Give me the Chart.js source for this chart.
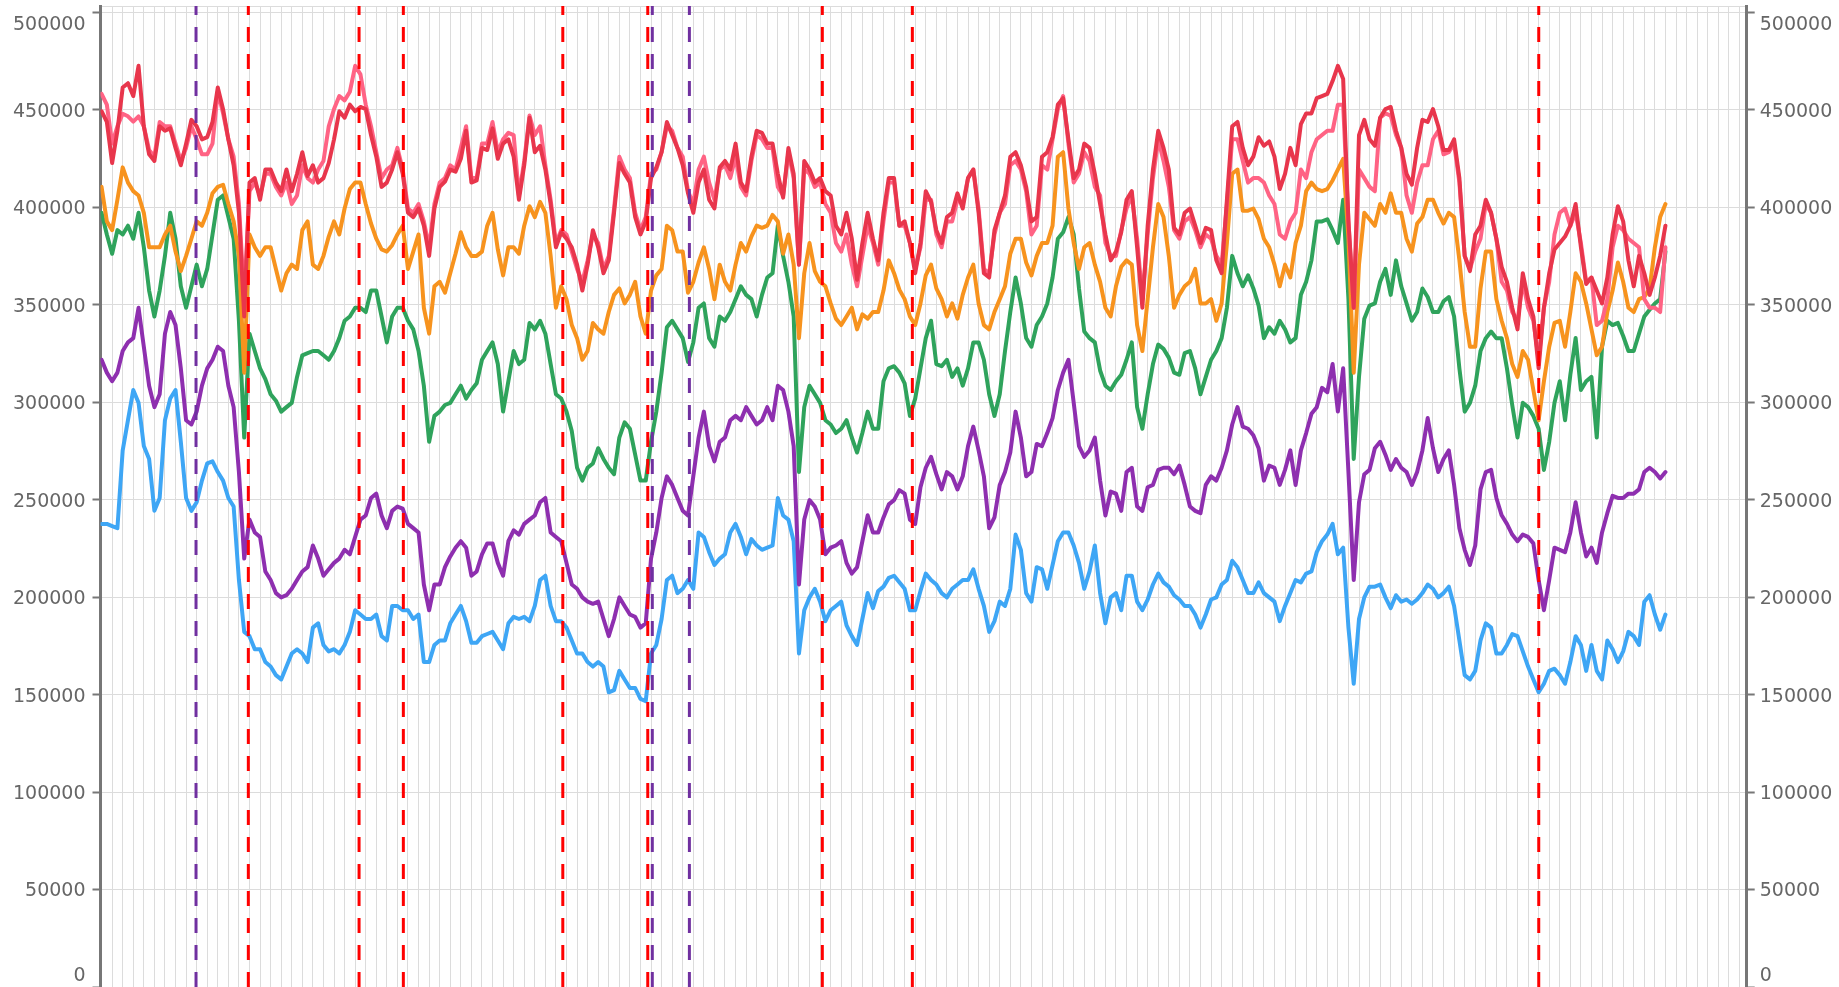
<!DOCTYPE html>
<html>
<head>
<meta charset="utf-8">
<script src="https://cdn.jsdelivr.net/npm/chart.js@4.4.1/dist/chart.umd.min.js"></script>
<style>
  html, body { margin: 0; padding: 0; background: #fff; overflow: hidden; }
  #wrap { position: relative; width: 1839px; height: 987px; }
</style>
</head>
<body>
<div id="wrap"><canvas id="chart"></canvas></div>
<script>
// sample positions, in grid-column units (one column = one vertical grid line)
const xs = [0,0.5,1,1.5,2,2.5,3,3.5,4,4.5,5,5.5,6,6.5,7,7.5,8,8.5,9,9.5,10,10.5,11,11.5,12,12.5,13,13.5,14,14.5,15,15.5,16,16.5,17,17.5,18,18.5,19,19.5,20,20.5,21,21.5,22,22.5,23,23.5,24,24.5,25,25.5,26,26.5,27,27.5,28,28.5,29,29.5,30,30.5,
  31,31.5,32,32.5,33,33.5,34,34.5,35,35.5,36,36.5,37,37.5,38,38.5,39,39.5,40,40.5,41,41.5,42,42.5,43,43.5,44,44.5,45,45.5,46,46.5,47,47.5,48,48.5,49,49.5,50,50.5,51,51.5,52,52.5,53,53.5,54,54.5,55,55.5,56,56.5,57,57.5,58,58.5,59,59.5,60,60.5,
  61,61.5,62,62.5,63,63.5,64,64.5,65,65.5,66,66.5,67,67.5,68,68.5,69,69.5,70,70.5,71,71.5,72,72.5,73,73.5,74,74.5,75,75.5,76,76.5,77,77.5,78,78.5,79,79.5,80,80.5,81,81.5,82,82.5,83,83.5,84,84.5,85,85.5,86,86.5,87,87.5,88,88.5,89,89.5,90,90.5,
  91,91.5,92,92.5,93,93.5,94,94.5,95,95.5,96,96.5,97,97.5,98,98.5,99,99.5,100,100.5,101,101.5,102,102.5,103,103.5,104,104.5,105,105.5,106,106.5,107,107.5,108,108.5,109,109.5,110,110.5,111,111.5,112,112.5,113,113.5,114,114.5,115,115.5,116,116.5,117,117.5,118,118.5,119,119.5,120,120.5,
  121,121.5,122,122.5,123,123.5,124,124.5,125,125.5,126,126.5,127,127.5,128,128.5,129,129.5,130,130.5,131,131.5,132,132.5,133,133.5,134,134.5,135,135.5,136,136.5,137,137.5,138,138.5,139,139.5,140,140.5,141,141.5,142,142.5,143,143.5,144,144.5,145,145.5,146,146.5,147,147.5,148];

const red = [449300,443800,422700,439300,461500,463700,457100,472600,441600,427200,423800,441600,439300,440500,430500,421600,432700,444900,441600,434900,436000,443800,461500,450400,434900,421600,397200,344000,412700,415000,403900,419400,419400,412700,408300,419400,408300,417200,428300,416100,421600,412700,415000,422700,434900,449300,446000,452700,449300,451500,450400,437100,426000,410500,412700,419400,428300,417200,397200,395000,399400,390600,
  375100,399400,410500,413200,419400,418300,424900,439300,412700,413800,430500,429400,440500,424900,432700,434900,426000,403900,421600,446000,428300,431600,419400,401700,379500,387200,383900,379500,370600,357300,370600,388300,379500,366200,372800,397200,422700,417200,412700,395000,386100,392800,415000,420500,428300,443800,437100,430500,421600,407200,397200,412700,419400,403900,399400,420500,423800,419400,432700,412700,
  408300,426000,439300,438200,432700,432700,417200,405000,430500,417200,370600,423800,419400,412700,415000,408300,406100,390600,386100,397200,383900,362900,381700,397200,383900,372800,397200,415000,415000,390600,392800,381700,366200,381700,408300,402800,388300,381700,395000,397200,407200,399400,415000,419400,397200,366200,364000,388300,397200,406100,426000,428300,421600,410500,392800,395000,426000,428300,436000,452700,
  456000,434900,415000,419400,432700,430500,417200,401700,386100,372800,377300,387200,403900,408300,379500,348500,390600,419400,439300,430500,419400,389500,386100,397200,399400,390600,381700,389500,388300,372800,366200,403900,441600,443800,430500,421600,426000,436000,431600,433800,426000,409400,417200,430500,421600,442700,448200,448200,456000,457100,458200,464800,472600,465900,392800,348500,437100,444900,434900,431600,
  446000,450400,451500,439300,430500,417200,411600,430500,444900,443800,450400,441600,429400,429400,434900,415000,375100,367300,386100,390600,403900,397200,383900,369500,361800,348500,337400,366200,352900,344000,317400,348500,366200,378400,381700,385000,390600,401700,379500,360700,364000,357300,350700,364000,386100,400600,392800,372800,359500,375100,366200,355100,364000,375100,390600];

const pink = [458200,452700,432700,441600,448000,446700,444000,446700,441600,429400,426000,443800,441600,441600,432700,423800,430500,441600,434900,427200,427200,432700,459300,448200,434900,426000,401700,352900,408300,412700,406100,417200,417200,410500,406100,412700,401700,406100,421600,415000,412700,419400,423800,441600,450400,457100,454900,459300,472600,468200,452700,441600,428300,415000,419400,421600,430500,419400,399400,397200,401700,392800,
  379500,401700,412700,415000,421600,419400,430500,441600,415000,415000,432700,432700,443800,428300,434900,438200,437100,406100,423800,447100,437100,441600,421600,403900,381700,388300,386100,377300,368400,361800,372800,386100,381700,368400,375100,399400,426000,419400,415000,397200,388300,395000,417200,419400,428300,441600,439300,430500,426000,408300,401700,419400,426000,412700,403900,419400,421600,415000,426000,410500,
  406100,423800,437100,434900,430500,430500,410500,406100,428300,415000,370600,419400,417200,410500,412700,401700,397200,381700,377300,386100,370600,359500,375100,390600,381700,370600,392800,412700,412700,390600,390600,381700,368400,379500,403900,403900,386100,379500,392800,392800,403900,401700,415000,419400,399400,368400,366200,386100,397200,401700,421600,423800,419400,408300,386100,390600,421600,419400,434900,450400,
  457100,432700,412700,417200,428300,423800,410500,406100,381700,375100,375100,388300,399400,406100,383900,352900,386100,415000,434900,423800,410500,388300,383900,392800,395000,388300,379500,386100,383900,375100,370600,401700,434900,434900,423800,412700,415000,415000,412700,406100,401700,386100,383900,392800,397200,419400,415000,428300,434900,437100,439300,439300,452700,452700,392800,348500,419400,415000,410500,408300,
  446000,448200,447100,437100,430500,406100,397200,412700,421600,421600,434900,439300,427200,428300,432700,412700,375100,368400,377300,383900,401700,397200,383900,361800,357300,346300,341800,361800,348500,341800,321800,348500,361800,386100,397200,399400,390600,397200,381700,361800,364000,339600,341800,352900,379500,390600,388300,383900,381700,379500,352900,348500,348500,346300,379500];

const orange = [410500,392800,388300,403900,420500,412700,408300,406100,397200,379500,379500,379500,386100,390600,377300,367300,375100,383900,392800,390600,397200,407200,410500,411600,401700,392800,375100,315200,386100,379500,375100,379500,379500,368400,357300,366200,370600,368400,388300,392800,370600,368400,375100,385000,392800,386100,399400,409400,412700,412700,401700,391700,383900,378400,377300,380600,386100,390600,368400,377300,386100,348500,
  335200,359500,361800,356200,366200,376200,387200,379500,375100,375100,377300,390600,397200,378400,365100,379500,379500,376200,390600,400600,395000,402800,397200,375100,348500,359500,352900,339600,332900,321800,326300,340700,337400,335200,346300,355100,358400,350700,355100,361800,344000,335200,357300,365100,368400,390600,388300,377300,377300,356200,361800,371700,379500,368400,352900,370600,361800,357300,370600,381700,
  377300,385000,390600,389500,390600,396100,392800,376200,386100,370600,332900,366200,381700,367300,361800,359500,350700,342900,339600,344000,348500,337400,345100,342900,346300,346300,357300,372800,366200,357800,352900,344000,339600,350700,365100,370600,358400,352900,344000,350700,342900,355100,364000,370600,350700,339600,337400,346300,352900,359500,376200,383900,383900,371700,365100,375100,381700,381700,390600,426000,
  428300,399400,381700,368400,379500,381700,370600,361800,348500,344000,359500,369500,372800,370600,339600,326300,352900,379500,401700,395000,375100,348500,355100,359500,361800,368400,350700,350700,352900,341800,350700,381700,417200,419400,398300,398300,399400,393900,383900,379500,370600,359500,370600,364000,381700,390600,408300,412700,409400,408300,409400,413800,419400,424900,383900,315200,370600,397200,393900,390600,
  401700,397200,407200,397200,397200,383900,377300,391700,395000,403900,403900,397200,391700,397200,395000,372800,346300,328500,328500,358400,377300,377300,352900,341800,332900,319600,313000,326300,321800,306300,290800,310800,328500,340700,341800,328500,346300,366200,361800,350700,337400,324100,328500,346300,357300,371700,361800,348500,346300,352900,354000,358400,379500,395000,401700];

const green = [397200,386100,376200,388300,386100,390600,383900,397200,379500,357300,344000,357300,375100,397200,383900,359500,348500,359500,370600,359500,368400,386100,403900,406100,395000,383900,341800,281900,335200,326300,317400,311900,304100,300800,295200,297500,299700,313000,324100,325200,326300,326300,324100,321800,326300,332900,341800,344000,348500,348500,346300,357300,357300,344000,330700,344000,348500,348500,341800,337400,326300,308500,
  279700,293000,295200,298600,299700,304100,308500,301900,306300,309700,321800,326300,330700,319600,295200,310800,326300,319600,321800,340700,337400,341800,335200,319600,304100,301900,295200,285300,266400,259800,266400,268600,276400,270900,266400,263100,281900,289700,286400,273100,259800,259800,279700,295200,315200,338500,341800,337400,332900,320700,330700,348500,350700,332900,328500,344000,341800,346300,352900,359500,
  355100,352900,344000,355100,364000,366200,390600,375100,361800,344000,264200,297500,308500,304100,299700,290800,288600,284200,286400,290800,281900,274200,284200,295200,286400,286400,310800,317400,318500,315200,309700,293000,301900,317400,332900,341800,319600,318500,321800,313000,317400,308500,317400,330700,330700,321800,304100,293000,304100,326300,346300,364000,350700,333000,328500,339600,344000,350700,364000,383900,
  387200,395000,386100,358400,336300,332900,330700,316300,308500,306300,310800,314100,321800,330700,297500,286400,304100,319600,329600,327400,322900,315200,314100,325200,326300,317400,304100,313000,321800,326300,332900,348500,375100,366200,359500,365100,358400,349600,332900,338500,335200,341800,337400,330700,332900,355100,361800,372800,392800,392800,393900,388300,381700,403900,352900,270900,313000,342900,349600,350700,
  361800,368400,355100,372800,359500,350700,341800,346300,358400,354000,346300,346300,351800,354000,344000,317400,295200,299700,308500,326300,332900,336300,332900,332900,317400,298600,281900,299700,297500,293000,286400,265300,279700,299700,310800,290800,314100,333000,306300,310800,313000,281900,328500,341800,339600,340700,334000,326300,326300,335200,344000,347400,350700,352900,377300];

const purple = [321800,315200,310800,315200,326300,330700,332900,348500,328500,308500,297500,304100,335200,346300,339600,317400,290800,288600,295200,308500,317400,321800,328500,326300,308500,297500,264200,219800,239800,233200,230900,213200,208800,202100,199900,201000,204300,208800,213200,215400,226500,219800,211000,214300,217600,219800,224300,222000,230900,239800,241900,250900,253100,241900,235400,244300,246500,245400,237600,235400,233200,206500,
  193300,206500,206500,215400,220900,225400,228700,225400,211000,213200,222000,227600,227600,217600,211000,228700,234300,232100,237600,239800,241900,248700,250900,233200,230900,228700,217600,206500,204300,199900,197700,196600,197700,188800,180000,188800,199900,195500,191100,189900,184400,186600,219800,233200,250900,262000,257600,250900,244300,241900,262000,281900,295200,277500,269700,279700,281900,290800,293000,290800,
  297500,293000,288600,290800,297500,290800,308500,306300,295200,277500,206500,239800,249800,246500,239800,222000,225400,226500,228700,217600,212100,215400,228700,242000,233200,233200,240900,247600,249800,254900,253100,239800,237600,256400,266400,272000,263100,255300,264200,262000,255300,262000,277500,287500,275300,262000,235400,240900,257600,264200,274200,295200,281900,262000,264200,278600,277500,284200,291900,306300,
  315200,321800,299700,277500,272000,275300,281900,259800,241900,254200,253100,244300,264200,266400,246500,244300,256400,257600,265300,266400,266400,263100,267500,257600,246500,244300,243100,257600,262000,259800,266400,275300,288600,297500,287500,286400,283100,276400,259800,267500,266400,257600,265300,275300,257600,275300,284200,294100,297500,307400,305200,319600,295200,317400,264200,208800,248700,263100,265300,276400,
  279700,273100,265300,270900,266400,264200,257600,264200,275300,291900,276400,264200,270900,275300,257600,235400,224300,216500,226500,255300,264200,265300,250900,242000,237600,232100,228700,232100,230900,227600,208800,193300,208800,225400,224300,223100,233200,248700,233200,220900,225400,217600,233200,243100,252000,250900,250900,253100,253100,255300,264200,266400,264200,260900,264200];

const blue = [237600,237600,236500,235400,275300,290800,306300,299700,277500,270900,244300,250900,290800,301900,306300,279700,250900,244300,248700,259800,268600,269700,264200,259800,250900,246500,208800,182200,180000,173300,173300,166700,164400,160000,157800,164400,171100,173300,171100,166700,184400,186600,175500,172200,173300,171100,175500,182200,193300,191100,188800,188800,191100,180000,177800,195500,195500,193300,193300,188800,191100,166700,
  166700,175500,177800,177800,186600,191100,195500,187700,176600,176600,180000,181100,182200,177800,173300,186600,189900,188800,189900,187700,195500,208800,211000,195500,187700,187700,184400,177800,171100,171100,166700,164400,166700,164400,151200,152300,162200,157800,153400,153400,147800,146700,171100,175500,188800,208800,211000,202100,204300,208800,204300,233200,230900,223100,216500,219800,222000,233200,237600,230900,
  222000,229800,226500,224300,225400,226500,250900,241900,239800,228700,171100,193300,199900,204300,197700,187700,193300,195500,197700,185500,180000,175500,188800,202100,194400,203200,205400,209900,211000,207600,204300,193300,193300,203200,212100,208800,206500,202100,199900,204300,206500,208800,208800,214300,204300,195500,182200,187700,197700,195500,204300,232100,224300,202100,197700,215400,214300,204300,216500,228700,
  233200,233200,226500,217600,204300,213200,226500,202100,186600,199900,202100,193300,211000,211000,197700,193300,198800,206500,212100,207600,205400,201000,198800,195500,195500,191100,184400,191100,198800,199900,206500,208800,218700,215400,208800,202100,202100,207600,202100,199900,197700,187700,195500,202100,208800,207600,212100,213200,223100,228700,232100,237600,222000,225400,184400,155600,188800,199900,205400,205400,
  206500,199900,194400,201000,197700,198800,196600,198800,202100,206500,204300,199900,202100,205400,195500,177800,160000,157800,162200,177800,186600,184400,171100,171100,175500,181100,180000,172200,164400,157800,151200,155600,162200,163300,160000,155600,166700,180000,175500,162200,175500,162200,157800,177800,173300,166700,172200,182200,180000,175500,197700,201000,191100,183300,191100];

// event markers (dashed verticals)
const redMarks = [13.89, 24.37, 28.56, 43.65, 51.69, 68.21, 76.73, 136.01];
const purpleMarks = [8.94, 52.12, 55.63];

// value ticks; the plot runs a little past the top tick, as in the original
const yTicks = [0, 50000, 100000, 150000, 200000, 250000, 300000, 350000, 400000, 450000, 500000];
const yMin = 0, yMax = 503300;

function pts(arr) { return xs.map((x, i) => ({ x: x, y: arr[i] })); }

function markSet(x, color) {
  return {
    data: [{ x: x, y: yMin }, { x: x, y: yMax }],
    borderColor: color, borderWidth: 3, borderDash: [15, 12],
    pointRadius: 0, fill: false
  };
}

const markSets = redMarks.map(x => markSet(x, '#ff0000'))
  .concat(purpleMarks.map(x => markSet(x, '#7030a0')));

function lineSet(arr, color) {
  return {
    data: pts(arr), borderColor: color, backgroundColor: color,
    borderWidth: 4, pointRadius: 0, tension: 0, fill: false,
    borderJoinStyle: 'round', borderCapStyle: 'round'
  };
}

// left/right value labels, kept inside the canvas like the original
const sideLabels = {
  id: 'sideLabels',
  afterDraw(chart) {
    const ctx = chart.ctx, area = chart.chartArea, sc = chart.scales.y;
    ctx.save();
    ctx.font = '19px "DejaVu Sans"';
    ctx.fillStyle = '#666';
    ctx.textBaseline = 'middle';
    sc.ticks.forEach(t => {
      let py = sc.getPixelForValue(t.value) + 2;
      py = Math.min(Math.max(py, 25), 976);
      ctx.textAlign = 'right';
      ctx.fillText(String(t.value), area.left - 15, py);
      ctx.textAlign = 'left';
      ctx.fillText(String(t.value), area.right + 13, py);
    });
    ctx.restore();
  }
};

const yAxis = (pos, w, onArea) => ({
  type: 'linear', position: pos, min: yMin, max: yMax,
  ticks: { display: false },
  afterBuildTicks(s) { s.ticks = yTicks.map(v => ({ value: v })); },
  grid: { color: '#dcdcdc', lineWidth: 1, drawOnChartArea: onArea, tickColor: '#777', tickLength: 8, tickWidth: 2 },
  border: { display: true, color: '#777', width: 3 },
  afterFit(s) { s.width = w; }
});

new Chart(document.getElementById('chart'), {
  type: 'line',
  data: {
    datasets: markSets.concat([
      lineSet(red, '#e8364c'),
      lineSet(pink, '#ff6384'),
      lineSet(orange, '#f7931e'),
      lineSet(green, '#2fa35c'),
      lineSet(purple, '#8e2faf'),
      lineSet(blue, '#3ea6f5')
    ])
  },
  options: {
    responsive: true,
    maintainAspectRatio: false,
    animation: false,
    layout: { padding: { top: 6, bottom: -3.5, left: 0, right: 0 } },
    plugins: { legend: { display: false }, tooltip: { enabled: false } },
    scales: {
      x: {
        type: 'linear', min: -0.1, max: 155.69,
        ticks: { display: false, stepSize: 1, includeBounds: false },
        grid: { color: '#dcdcdc', lineWidth: 1, drawTicks: false },
        border: { display: false },
        afterFit(s) { s.height = 0; }
      },
      xTop: {
        type: 'linear', position: 'top', min: -0.1, max: 155.69,
        ticks: { display: false },
        grid: { drawOnChartArea: false, drawTicks: false },
        border: { display: true, color: '#dcdcdc', width: 1 },
        afterFit(s) { s.height = 0; }
      },
      y: yAxis('left', 100.5, true),
      y2: yAxis('right', 92.3, false)
    }
  },
  plugins: [sideLabels]
});
</script>
</body>
</html>
